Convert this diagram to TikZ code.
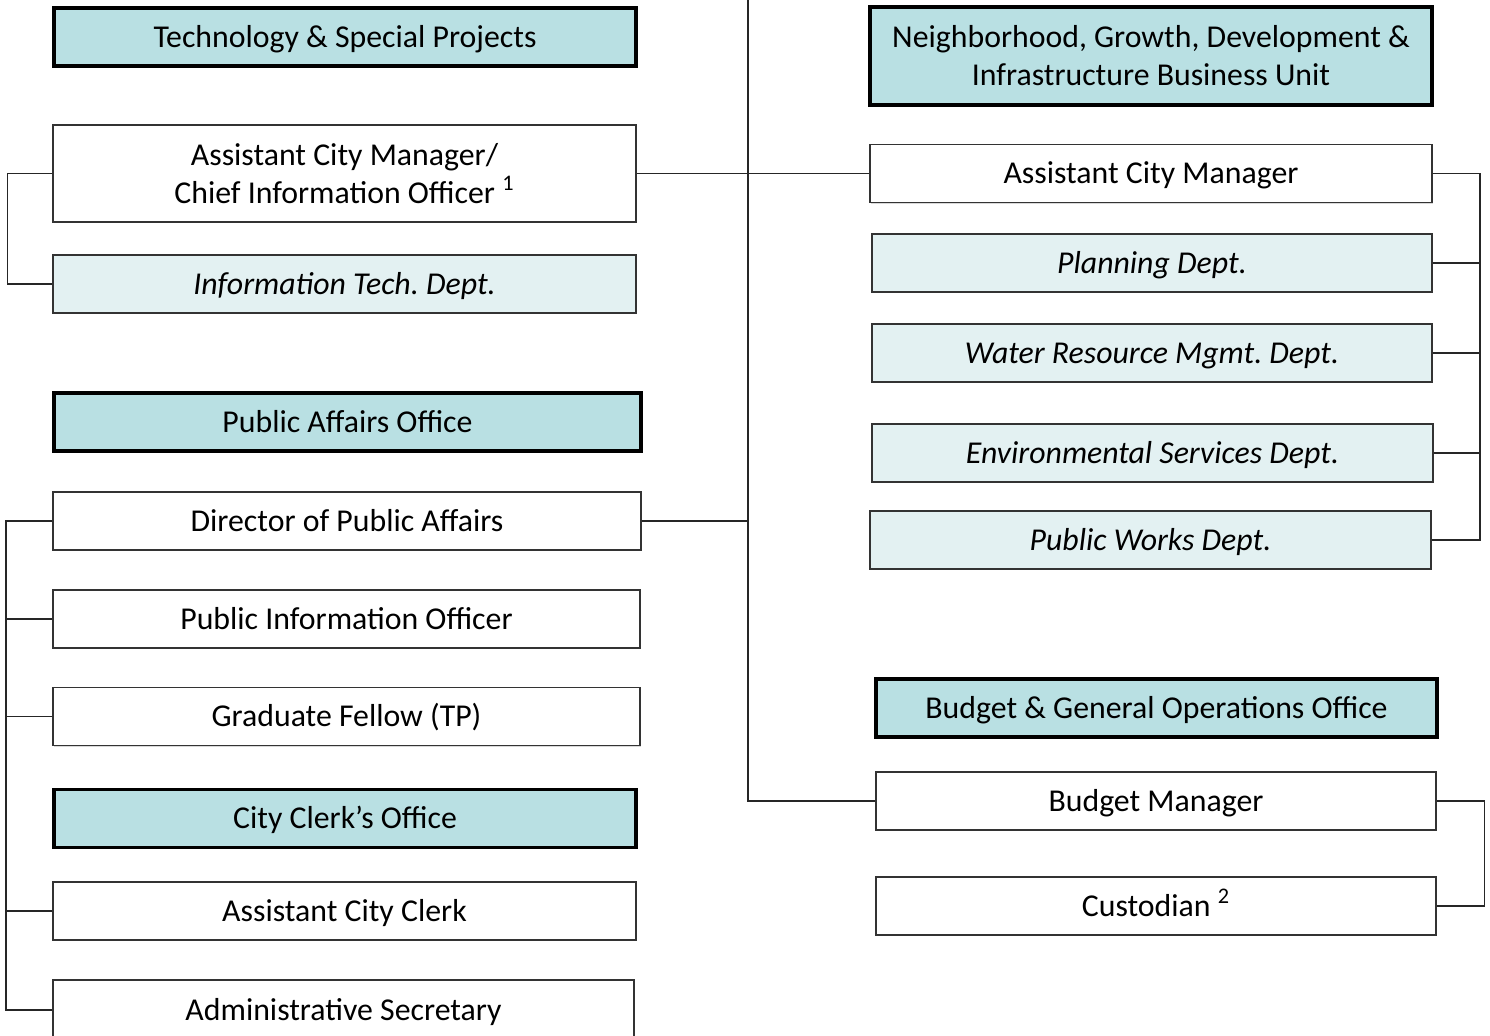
\documentclass[tikz,border=0pt]{standalone}
\usepackage{fontspec}
\setmainfont{Carlito}
\usetikzlibrary{shadows}
\frenchspacing

\definecolor{hdrteal}{RGB}{185,224,227}
\definecolor{deptteal}{RGB}{227,241,242}

\tikzset{
  orgbox/.style={draw=black!80, line width=0.7pt, inner sep=0pt, align=center,
    minimum height=29pt, text height=11pt, text depth=0.5pt,
    font=\fontsize{15.9}{19}\selectfont,
    drop shadow={shadow xshift=0.6pt, shadow yshift=-0.6pt, fill=black!30}},
  twoline/.style={text height=, text depth=},
  hdrbox/.style={orgbox, draw=black, line width=1.7pt, fill=hdrteal},
  posbox/.style={orgbox, fill=white},
  deptbox/.style={orgbox, fill=deptteal, font=\fontsize{15.9}{19}\selectfont\itshape},
  link/.style={draw=black!85, line width=0.6pt}
}

\begin{document}
\begin{tikzpicture}[x=0.5pt, y=-0.5pt]
  \useasboundingbox (0,0) rectangle (1490,1036);

  % Left column: technology
  \node[hdrbox, minimum width=291pt] (tsp) at (345,37) {Technology \& Special Projects};
  \node[posbox, twoline, minimum width=291.5pt, minimum height=48.5pt] (acmcio) at (344.5,173.5)
    {Assistant City Manager/\\Chief Information Officer \textsuperscript{1}};
  \node[deptbox, minimum width=291.5pt] (itd) at (344.5,284) {Information Tech. Dept.};

  % Left column: public affairs
  \node[hdrbox, minimum width=293.5pt] (pao) at (347.5,422) {Public Affairs Office};
  \node[posbox, minimum width=294pt] (dpa) at (347,521) {Director of Public Affairs};
  \node[posbox, minimum width=293.5pt] (pio) at (346.5,619) {Public Information Officer};
  \node[posbox, minimum width=293.5pt] (gf) at (346.5,716.5) {Graduate Fellow (TP)};

  % Left column: city clerk
  \node[hdrbox, minimum width=291pt] (cco) at (345,818.5) {City Clerk’s Office};
  \node[posbox, minimum width=291.5pt] (acc) at (344.5,911) {Assistant City Clerk};
  \node[posbox, minimum width=290.5pt, minimum height=30pt] (asec) at (343.5,1010) {Administrative Secretary};

  % Right column: business unit
  \node[hdrbox, twoline, minimum width=281pt, minimum height=49pt] (ngdi) at (1151,56)
    {Neighborhood, Growth, Development \&\\Infrastructure Business Unit};
  \node[posbox, minimum width=281pt] (acm) at (1151,173.5) {Assistant City Manager};
  \node[deptbox, minimum width=280pt] (plan) at (1152,263) {Planning Dept.};
  \node[deptbox, minimum width=280pt] (wrm) at (1152,353) {Water Resource Mgmt. Dept.};
  \node[deptbox, minimum width=280.5pt] (env) at (1152.5,453) {Environmental Services Dept.};
  \node[deptbox, minimum width=280.5pt] (pw) at (1150.5,540) {Public Works Dept.};

  % Right column: budget
  \node[hdrbox, minimum width=280.5pt] (bgo) at (1156.5,708) {Budget \& General Operations Office};
  \node[posbox, minimum width=280pt] (bm) at (1156,801) {Budget Manager};
  \node[posbox, minimum width=280pt] (cust) at (1156,906) {Custodian \textsuperscript{2}};

  % Spines
  \coordinate (trunk) at (748,0);
  \coordinate (paspine) at (6,0);
  \coordinate (ngspine) at (1480,0);

  % Main trunk
  \draw[link] (trunk) |- (bm.west);
  \draw[link] (acmcio.east) -- (acm.west);
  \draw[link] (dpa.east) -- (dpa.east -| trunk);

  % Left brackets
  \draw[link] (acmcio.west) -- ++(-45,0) |- (itd.west);
  \draw[link] (dpa.west) -| (paspine |- asec.west) -- (asec.west);
  \foreach \n in {pio,gf,acc}
    \draw[link] (\n.west) -- (\n.west -| paspine);

  % Right brackets
  \draw[link, line width=0.9pt] (acm.east) -| (ngspine |- pw.east) -- (pw.east);
  \foreach \n in {plan,wrm,env}
    \draw[link] (\n.east) -- (\n.east -| ngspine);
  \draw[link] (bm.east) -- ++(48,0) |- (cust.east);

\end{tikzpicture}
\end{document}
